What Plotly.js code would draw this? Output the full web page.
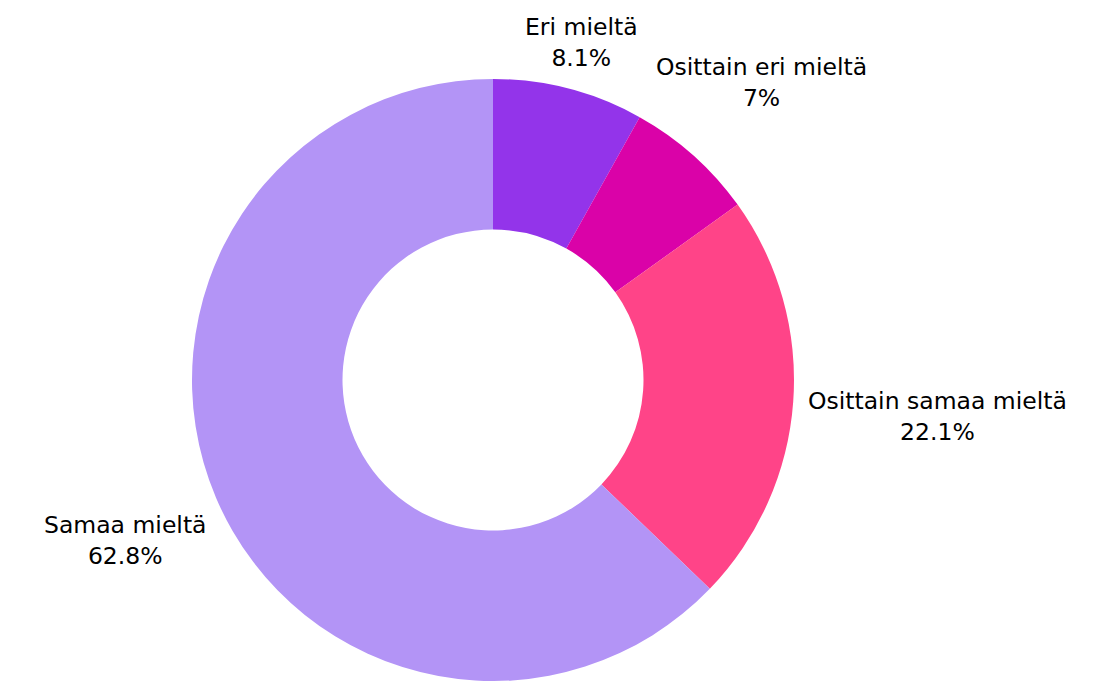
<!DOCTYPE html>
<html>
<head>
<meta charset="utf-8">
<script src="https://cdn.plot.ly/plotly-3.0.1.min.js"></script>
<style>html,body{margin:0;padding:0;background:#fff;}#chart{width:1099px;height:681px;}</style>
</head>
<body>
<div id="chart"></div>
<script>
const categories = ["Eri mieltä", "Osittain eri mieltä", "Osittain samaa mieltä", "Samaa mieltä"];
const values = [8.1, 7.0, 22.1, 62.8];
const colors = ["#9334EA", "#DA02A8", "#FF4488", "#B394F6"];

const W_PX = 1099, H_PX = 681;
const margin = {l: 0, r: 113, t: 79, b: 0};
const FONT = "DejaVu Sans";
const FSIZE = 23.5;

// pie geometry as Plotly lays it out (full domain)
const plotW = W_PX - margin.l - margin.r;
const plotH = H_PX - margin.t - margin.b;
const R = Math.min(plotW, plotH) / 2;
const cx = margin.l + plotW / 2;
const cy = margin.t + plotH / 2;

const total = values.reduce((a, b) => a + b, 0);
const ctx = document.createElement("canvas").getContext("2d");
ctx.font = FSIZE + "px '" + FONT + "'";

let cum = 0;
const annotations = categories.map((lab, i) => {
  const frac = values[i] / total;
  const mid = (cum + frac / 2) * 2 * Math.PI; // clockwise from top
  cum += frac;
  const pctText = parseFloat((frac * 100).toPrecision(3)) + "%";
  const w = Math.max(ctx.measureText(lab).width, ctx.measureText(pctText).width);
  const h = 2.1 * FSIZE;
  const s = Math.sin(mid), c = Math.cos(mid);
  const d = R + 14 + (w / 2) * Math.abs(s) + (h / 2) * Math.abs(c);
  const px = cx + d * s;
  const py = cy - d * c;
  return {
    xref: "paper", yref: "paper",
    x: (px - margin.l) / plotW,
    y: 1 - (py - margin.t) / plotH,
    xanchor: "center", yanchor: "middle",
    yshift: -4,
    text: lab + "<br>" + pctText,
    showarrow: false,
    align: "center",
    font: {family: FONT, size: FSIZE, color: "#000"}
  };
});

const trace = {
  type: "pie",
  labels: categories,
  values: values,
  hole: 0.5,
  sort: false,
  direction: "clockwise",
  rotation: 0,
  marker: {colors: colors, line: {width: 0}},
  textinfo: "none",
  automargin: false,
  showlegend: false,
  hoverinfo: "label+percent"
};

const layout = {
  width: W_PX,
  height: H_PX,
  margin: margin,
  paper_bgcolor: "#fff",
  font: {family: FONT, color: "#000"},
  showlegend: false,
  annotations: annotations
};

Plotly.newPlot("chart", [trace], layout, {displayModeBar: false, staticPlot: true});
</script>
</body>
</html>
